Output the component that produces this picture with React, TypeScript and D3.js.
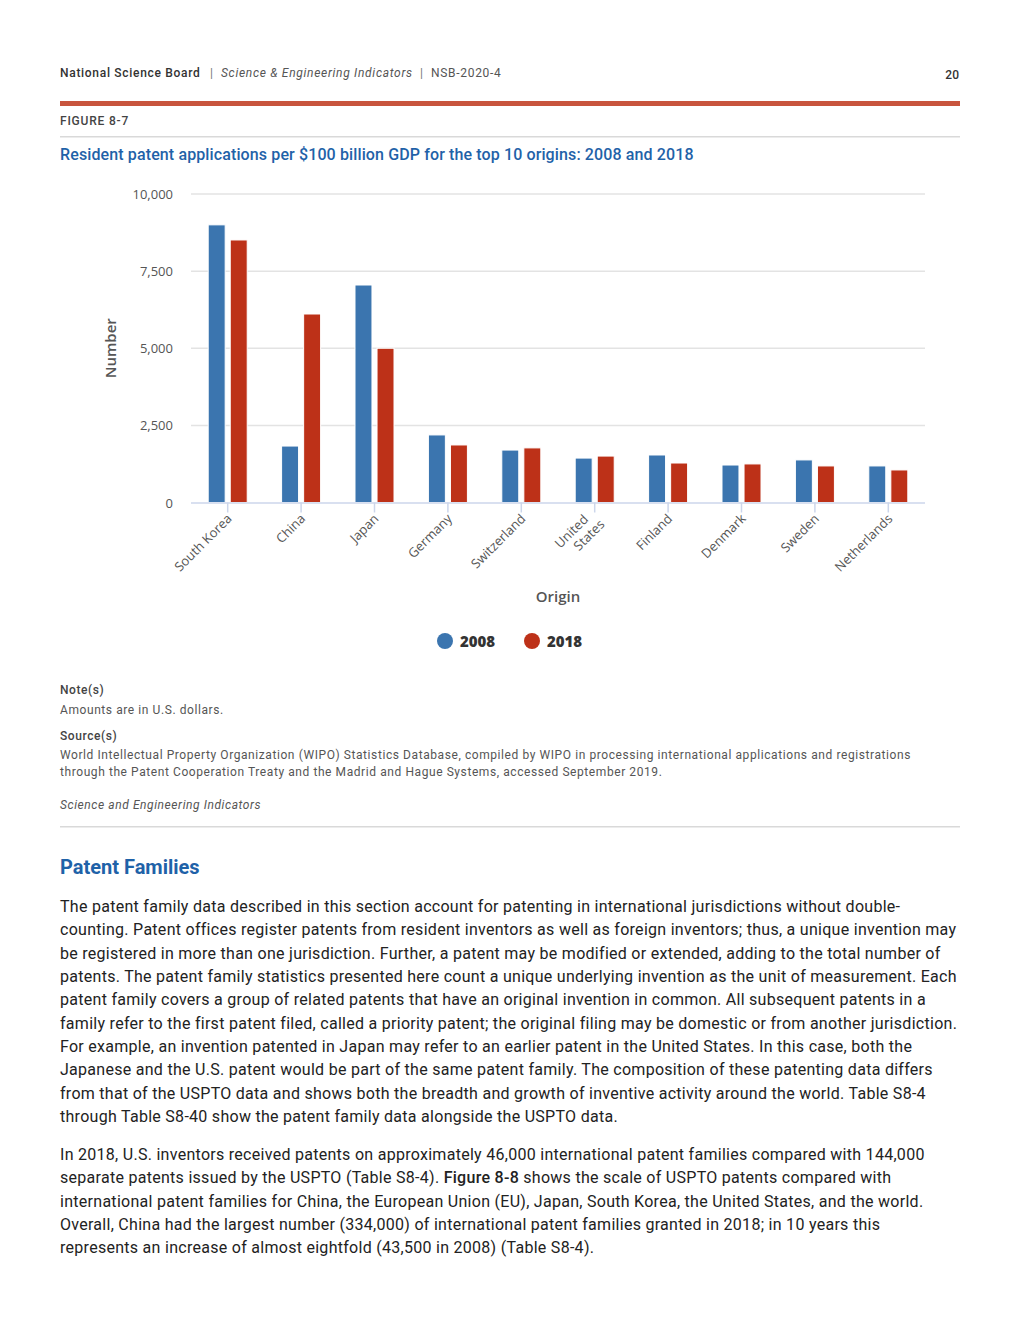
import React from 'react';
import * as d3 from 'd3';

const origins = ['South Korea', 'China', 'Japan', 'Germany', 'Switzerland', 'United States', 'Finland', 'Denmark', 'Sweden', 'Netherlands'];
const values2008 = [9000, 1830, 7050, 2190, 1700, 1440, 1540, 1215, 1380, 1185];
const values2018 = [8510, 6110, 5000, 1865, 1770, 1505, 1280, 1250, 1185, 1055];
const years = ['2008', '2018'];
const yTicks = [0, 2500, 5000, 7500, 10000];

const BLUE = '#3b75af';
const RED = '#bd3118';
const SERIES_COLORS = [BLUE, RED];

const para1 = [
  'The patent family data described in this section account for patenting in international jurisdictions without double-',
  'counting. Patent offices register patents from resident inventors as well as foreign inventors; thus, a unique invention may',
  'be registered in more than one jurisdiction. Further, a patent may be modified or extended, adding to the total number of',
  'patents. The patent family statistics presented here count a unique underlying invention as the unit of measurement. Each',
  'patent family covers a group of related patents that have an original invention in common. All subsequent patents in a',
  'family refer to the first patent filed, called a priority patent; the original filing may be domestic or from another jurisdiction.',
  'For example, an invention patented in Japan may refer to an earlier patent in the United States. In this case, both the',
  'Japanese and the U.S. patent would be part of the same patent family. The composition of these patenting data differs',
  'from that of the USPTO data and shows both the breadth and growth of inventive activity around the world. Table S8-4',
  'through Table S8-40 show the patent family data alongside the USPTO data.',
];

const FONT = 'Roboto, sans-serif';
const CHART_FONT = '"Open Sans", sans-serif';
const BODY_LS = 0.28;
const SMALL_LS = 0.58;

export default function App() {
  const left = 191;
  const right = 925;
  const top = 194;
  const bottom = 502.5;

  const x = d3.scaleBand<string>().domain(origins).range([left, right]).paddingInner(0).paddingOuter(0);
  const inner = d3.scaleBand<string>().domain(years).range([0, x.bandwidth()]).paddingOuter(0.78).paddingInner(0.23);
  const y = d3.scaleLinear().domain([0, 10000]).range([bottom, top]);
  const fmt = d3.format(',');

  const series = [values2008, values2018];

  return (
    <svg width={1020} height={1320} style={{ position: 'absolute', left: 0, top: 0, background: '#fff' }}>
      {/* page header */}
      <g fontFamily={FONT} fontSize={12} letterSpacing={0.7}>
        <text x={60} y={77} fontWeight={500} fill="#333">National Science Board</text>
        <text x={210} y={77} fill="#777">|</text>
        <text x={221} y={77} fontStyle="italic" fill="#555">Science &amp; Engineering Indicators</text>
        <text x={420} y={77} fill="#777">|</text>
        <text x={431} y={77} fill="#555">NSB-2020-4</text>
      </g>
      <text x={959} y={79} textAnchor="end" fontFamily={FONT} fontSize={12} fontWeight={500} fill="#333">20</text>
      <rect x={60} y={101} width={900} height={5} fill="#c8553d" />
      <text x={60} y={125} fontFamily={FONT} fontSize={12} fontWeight={500} letterSpacing={0.8} fill="#444">FIGURE 8-7</text>
      <rect x={60} y={136} width={900} height={1.5} fill="#d9d9d9" />
      <text x={60} y={160} fontFamily={FONT} fontSize={16} fontWeight={500} letterSpacing={0.12} fill="#1f62a8">
        Resident patent applications per $100 billion GDP for the top 10 origins: 2008 and 2018
      </text>

      {/* chart */}
      <g>
        {yTicks.map((t) => (
          <g key={t}>
            {t > 0 && <line x1={left} x2={right} y1={y(t)} y2={y(t)} stroke="#e3e3e3" strokeWidth={1.5} />}
            <text x={173} y={y(t) + 5} textAnchor="end" fontFamily={CHART_FONT} fontSize={13} fill="#555">
              {fmt(t)}
            </text>
          </g>
        ))}
        {origins.map((o, i) => (
          <g key={o}>
            {series.map((vals, s) => (
              <rect
                key={s}
                x={(x(o) ?? 0) + (inner(years[s]) ?? 0)}
                y={y(vals[i])}
                width={inner.bandwidth()}
                height={bottom - y(vals[i])}
                fill={SERIES_COLORS[s]}
                stroke="#fff"
                strokeWidth={1}
              />
            ))}
          </g>
        ))}
        <line x1={left} x2={right} y1={bottom + 0.5} y2={bottom + 0.5} stroke="#ccd6eb" strokeWidth={1.5} />
        {origins.map((o) => {
          const cx = (x(o) ?? 0) + x.bandwidth() / 2;
          const lines = o === 'United States' ? ['United', 'States'] : [o];
          return (
            <g key={o}>
              <line x1={cx} x2={cx} y1={bottom} y2={bottom + 10} stroke="#ccd6eb" strokeWidth={1.5} />
              <text
                transform={`translate(${cx + 5},${bottom + 17}) rotate(-45)`}
                textAnchor="end"
                fontFamily={CHART_FONT}
                fontSize={13}
                fill="#555"
              >
                {lines.map((l, k) => (
                  <tspan key={l} x={k === 0 && lines.length > 1 ? -8 : 0} dy={k === 0 ? (lines.length > 1 ? -7 : 0) : 15}>
                    {l}
                  </tspan>
                ))}
              </text>
            </g>
          );
        })}
        <text
          transform={`translate(116,${(top + bottom) / 2}) rotate(-90)`}
          textAnchor="middle"
          fontFamily={CHART_FONT}
          fontSize={15}
          fontWeight={600}
          fill="#555"
        >
          Number
        </text>
        <text x={(left + right) / 2} y={602} textAnchor="middle" fontFamily={CHART_FONT} fontSize={15} fontWeight={600} fill="#555">
          Origin
        </text>
        {years.map((yr, s) => (
          <g key={yr} transform={`translate(${445 + s * 87},641)`}>
            <circle r={8} fill={SERIES_COLORS[s]} />
            <text x={15} y={5.5} fontFamily={CHART_FONT} fontSize={15} fontWeight={800} fill="#333">
              {yr}
            </text>
          </g>
        ))}
      </g>

      {/* notes */}
      <g fontFamily={FONT} fontSize={12} letterSpacing={SMALL_LS}>
        <text x={60} y={694} fontWeight={500} fill="#444">Note(s)</text>
        <text x={60} y={714} fill="#555">Amounts are in U.S. dollars.</text>
        <text x={60} y={740} fontWeight={500} fill="#444">Source(s)</text>
        <text x={60} y={759} fill="#555">
          World Intellectual Property Organization (WIPO) Statistics Database, compiled by WIPO in processing international applications and registrations
        </text>
        <text x={60} y={776} fill="#555">
          through the Patent Cooperation Treaty and the Madrid and Hague Systems, accessed September 2019.
        </text>
        <text x={60} y={809} fontStyle="italic" fill="#555">Science and Engineering Indicators</text>
      </g>
      <rect x={60} y={826} width={900} height={1.5} fill="#d9d9d9" />

      {/* section */}
      <text x={60} y={874} fontFamily={FONT} fontSize={20} fontWeight={700} fill="#1f62a8">Patent Families</text>
      <g fontFamily={FONT} fontSize={16} letterSpacing={BODY_LS} fill="#222">
        {para1.map((l, i) => (
          <text key={i} x={60} y={912 + i * 23.33}>
            {l}
          </text>
        ))}
        <text x={60} y={1160}>
          In 2018, U.S. inventors received patents on approximately 46,000 international patent families compared with 144,000
        </text>
        <text x={60} y={1183.3}>
          separate patents issued by the USPTO (Table S8-4). <tspan fontWeight={500}>Figure 8-8</tspan> shows the scale of USPTO patents compared with
        </text>
        <text x={60} y={1206.6}>
          international patent families for China, the European Union (EU), Japan, South Korea, the United States, and the world.
        </text>
        <text x={60} y={1230}>
          Overall, China had the largest number (334,000) of international patent families granted in 2018; in 10 years this
        </text>
        <text x={60} y={1253.3}>
          represents an increase of almost eightfold (43,500 in 2008) (Table S8-4).
        </text>
      </g>
    </svg>
  );
}
